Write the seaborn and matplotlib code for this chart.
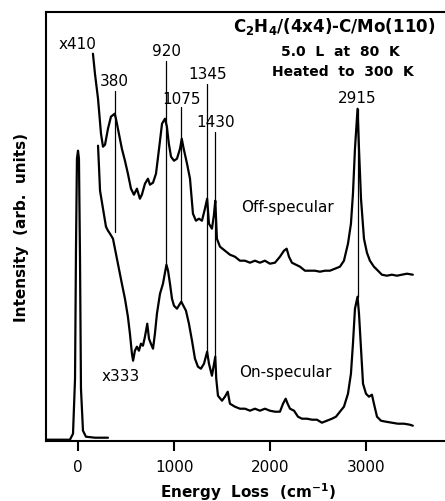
import numpy as np
import pandas as pd
import matplotlib
matplotlib.use("Agg")
import matplotlib.pyplot as plt
import seaborn as sns

# ---- data (energy loss in cm^-1, intensity in arbitrary units) ----
off_E = [153, 174, 206, 237, 258, 279, 310, 341, 380, 393, 424, 455, 487, 518, 550, 581, 612,
         643, 664, 696, 727, 748, 780, 811, 843, 874, 905, 925, 945, 968, 999, 1030, 1062, 1080,
         1100, 1135, 1166, 1197, 1228, 1260, 1291, 1322, 1345, 1364, 1395, 1415, 1430, 1447,
         1479, 1531, 1583, 1635, 1687, 1740, 1792, 1844, 1896, 1948, 2000, 2053, 2105, 2147,
         2175, 2199, 2230, 2272, 2314, 2366, 2418, 2470, 2522, 2575, 2627, 2679, 2731, 2773,
         2815, 2846, 2867, 2888, 2915, 2930, 2951, 2982, 3013, 3044, 3086, 3128, 3169, 3221,
         3273, 3326, 3378, 3430, 3492]
off_I = [387, 367, 342, 307, 294, 296, 312, 324, 327, 322, 307, 292, 280, 267, 252, 246, 252,
         242, 246, 257, 262, 256, 258, 267, 292, 317, 322, 314, 297, 284, 280, 282, 292, 302,
         292, 277, 262, 227, 220, 222, 220, 232, 242, 217, 212, 225, 240, 202,
         194, 190, 186, 184, 180, 180, 178, 180, 178, 180, 177, 178, 184, 190,
         192, 184, 178, 176, 174, 170, 170, 170, 169, 170, 170, 172, 174, 180,
         197, 217, 247, 292, 332, 292, 242, 202, 188, 180, 174, 170, 166, 165,
         166, 165, 166, 167, 166]

on_E = [206, 217, 227, 258, 289, 310, 331, 362, 393, 424, 455, 487, 518, 539, 560, 572, 591,
        612, 633, 654, 675, 696, 720, 738, 758, 780, 800, 821, 853, 884, 920, 937, 957, 978,
        999, 1030, 1062, 1075, 1124, 1155, 1187, 1218, 1249, 1280, 1312, 1345, 1364, 1395,
        1430, 1440, 1458, 1500, 1531, 1560, 1583, 1635, 1687, 1740, 1792, 1844, 1896, 1948,
        2000, 2053, 2105, 2137, 2165, 2185, 2210, 2252, 2293, 2335, 2387, 2439, 2491, 2543,
        2595, 2648, 2690, 2731, 2773, 2815, 2846, 2867, 2888, 2915, 2930, 2951, 2972, 3003,
        3034, 3065, 3086, 3118, 3159, 3211, 3273, 3336, 3399, 3461, 3492]
on_I = [295, 272, 250, 232, 214, 210, 207, 202, 187, 172, 157, 142, 124, 107, 87, 80, 90,
        94, 90, 97, 95, 104, 117, 102, 97, 92, 107, 127, 147, 157, 176, 170, 157, 142,
        135, 132, 137, 139, 130, 117, 100, 82, 74, 72, 77, 89, 77, 65,
        84, 62, 45, 40, 44, 49, 37, 34, 32, 32, 30, 32, 30, 32,
        30, 29, 29, 37, 42, 37, 32, 30, 24, 22, 22, 21, 21, 18,
        20, 22, 24, 29, 34, 47, 67, 97, 132, 144, 127, 92, 57, 47,
        44, 46, 37, 24, 20, 19, 18, 17, 17, 16, 15]

el_E = [-330, -120, -87, -55, -34, -24, -14, -3, 7, 18, 28, 49, 80, 174, 310]
el_I = [1, 1, 1, 7, 62, 192, 282, 290, 282, 182, 52, 10, 4, 3, 3]

peak_pos = [380, 920, 1075, 1345, 1430, 2915]
peak_labels = ["380", "920", "1075", "1345", "1430", "2915"]
peak_top = [350, 380, 334, 357, 309, 332]
peak_bot = [209, 177, 139, 89, 84, 144]
peak_label_y = [360, 390, 342, 367, 319, 343]

xticks = [0, 1000, 2000, 3000]

# ---- figure ----
sns.set_theme(style="ticks")
plt.rcParams['font.family'] = ['DejaVu Sans']
plt.rcParams['text.color'] = 'black'
plt.rcParams['axes.labelcolor'] = 'black'
plt.rcParams['xtick.color'] = 'black'

fig = plt.figure(figsize=(4.45, 5.02), dpi=100)
ax_h = 441.7 - 12.5
ax = fig.add_axes([46 / 445, (502 - 441.7) / 502, 1 - 46 / 445, ax_h / 502])

df_off = pd.DataFrame({"E": off_E, "I": off_I})
df_on = pd.DataFrame({"E": on_E, "I": on_I})
df_el = pd.DataFrame({"E": el_E, "I": el_I})
for d in (df_off, df_on, df_el):
    sns.lineplot(data=d, x="E", y="I", ax=ax, color="black", lw=1.6, sort=False,
                 estimator=None)

for p, t, b in zip(peak_pos, peak_top, peak_bot):
    ax.plot([p, p], [b, t], color="black", lw=0.9)

for p, lab, ly in zip(peak_pos, peak_labels, peak_label_y):
    ax.text(p, ly, lab, ha="center", va="center", fontsize=11, color="black")

ax.text(-10, 397, "x410", ha="center", va="center", fontsize=11)
ax.text(440, 65, "x333", ha="center", va="center", fontsize=11)
ax.text(2180, 234, "Off-specular", ha="center", va="center", fontsize=11)
ax.text(2160, 69, "On-specular", ha="center", va="center", fontsize=11)

ax.text(2669, 415, r"C$_\mathbf{2}$H$_\mathbf{4}$/(4x4)-C/Mo(110)", ha="center", va="center",
        fontsize=12, fontweight="bold")
ax.text(2740, 390, "5.0  L  at  80  K", ha="center", va="center", fontsize=10,
        fontweight="bold")
ax.text(2760, 370, "Heated  to  300  K", ha="center", va="center", fontsize=10,
        fontweight="bold")

ax.set_xlim(-337, (445 - 78.3) / 0.0958)
ax.set_ylim(0, 429.2)
ax.set_xticks(xticks)
ax.set_xticklabels([str(x) for x in xticks], fontsize=11)
ax.set_yticks([])
ax.tick_params(axis="x", direction="out", length=7.5, width=1.5, pad=6, colors="black")

ax.set_xlabel(r"Energy  Loss  (cm$^{\mathbf{-1}}$)", fontsize=11, fontweight="bold")
ax.set_ylabel("Intensity  (arb.  units)", fontsize=11, fontweight="bold")
ax.xaxis.set_label_coords((248 - 46) / 399, -(492 - 441.7) / ax_h)
ax.xaxis.label.set_va("center")
ax.yaxis.set_label_coords(-(46 - 22) / 399, 0.5)
ax.yaxis.label.set_va("center")

for s in ["left", "bottom", "top"]:
    ax.spines[s].set_linewidth(1.5)
    ax.spines[s].set_color("black")
ax.spines["right"].set_visible(False)

fig.savefig("out.png", dpi=100)
